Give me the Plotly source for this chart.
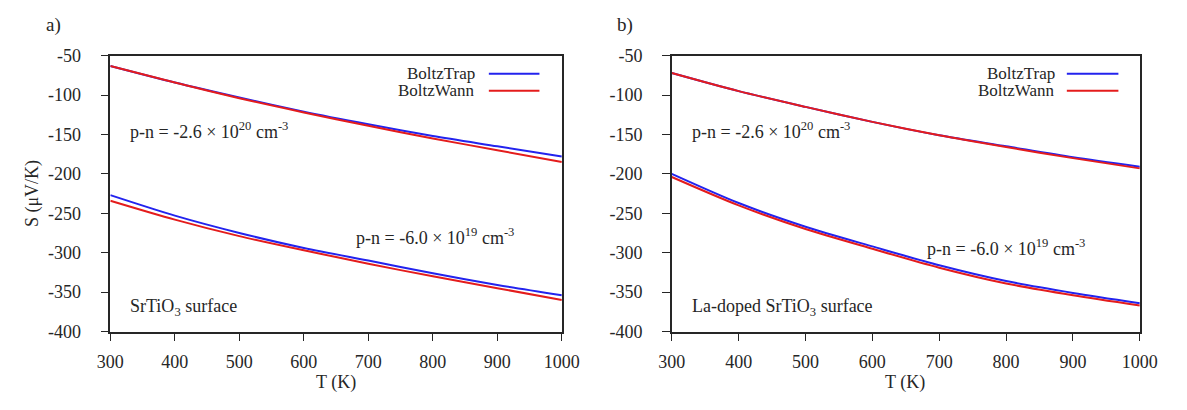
import plotly.graph_objects as go

# Temperature grid (K)
T = [300, 400, 500, 600, 700, 800, 900, 1000]

# a) SrTiO3 surface, Seebeck coefficient (uV/K)
a_high_trap = [-63, -84, -103, -121, -137, -152, -165, -178]
a_high_wann = [-63, -84, -104, -122, -139, -155, -170, -185]
a_low_trap = [-227, -253, -275, -294, -310, -326, -341, -354]
a_low_wann = [-234, -258, -279, -297, -314, -330, -345, -360]

# b) La-doped SrTiO3 surface
b_high_trap = [-72, -95, -115, -134, -151, -165, -179, -191]
b_high_wann = [-72, -95, -115, -134, -151, -166, -180, -193]
b_low_trap = [-200, -237, -267, -292, -316, -336, -351, -364]
b_low_wann = [-204, -240, -270, -295, -319, -339, -354, -367]

x_ticks = [300, 400, 500, 600, 700, 800, 900, 1000]
y_ticks = [-400, -350, -300, -250, -200, -150, -100, -50]
y_tick_text = ["-400", "-350", "-300", "-250", "-200", "-150", "-100", "-50"]

BLUE = "#2323ee"
RED = "#e41c1c"
INK = "#262626"
SERIF = "Liberation Serif"
FS = 18

W, H = 1187, 410
fig = go.Figure()

panels = [
    ("x", "y", a_high_trap, a_high_wann, a_low_trap, a_low_wann),
    ("x2", "y2", b_high_trap, b_high_wann, b_low_trap, b_low_wann),
]
for xa, ya, ht, hw, lt, lw in panels:
    for ys, col in ((ht, BLUE), (hw, RED), (lt, BLUE), (lw, RED)):
        fig.add_trace(go.Scatter(
            x=T, y=ys, mode="lines", xaxis=xa, yaxis=ya,
            line=dict(color=col, width=2, shape="spline", smoothing=0.8),
            showlegend=False, hoverinfo="skip",
        ))

ydom = [1 - 338 / H, 1 - 48 / H]
axis_common = dict(
    showgrid=False, zeroline=False, showline=True, mirror=True,
    linecolor=INK, linewidth=1.5, ticks="outside", ticklen=8,
    tickcolor=INK, tickwidth=1.2,
    tickfont=dict(family=SERIF, size=FS, color=INK),
)
fig.update_layout(
    width=W, height=H, margin=dict(l=0, r=0, t=0, b=0),
    paper_bgcolor="white", plot_bgcolor="white",
    xaxis=dict(domain=[99 / W, 563 / W], range=[300, 1000], tickvals=x_ticks,
               ticklabelstandoff=5, anchor="y", **axis_common),
    yaxis=dict(domain=ydom, range=[-400, -50], tickvals=y_ticks,
               ticktext=y_tick_text, ticklabelstandoff=16, anchor="x",
               **axis_common),
    xaxis2=dict(domain=[676 / W, 1157 / W], range=[300, 1000], tickvals=x_ticks,
                ticklabelstandoff=5, anchor="y2", **axis_common),
    yaxis2=dict(domain=ydom, range=[-400, -50], tickvals=y_ticks,
                ticktext=y_tick_text, ticklabelstandoff=16, anchor="x2",
                **axis_common),
)


def text(x, y, s, size=FS, xanchor="center", angle=0):
    fig.add_annotation(
        x=x / W, y=1 - y / H, xref="paper", yref="paper", text=s,
        showarrow=False, xanchor=xanchor, yanchor="middle", textangle=angle,
        borderpad=0,
        font=dict(family=SERIF, size=size, color=INK),
    )


# panel letters
text(41, 16, "a)", size=19)
text(628, 16, "b)", size=19)

# axis titles
text(331, 392, "T (K)")
text(916, 392, "T (K)")
text(19, 193, "S (μV/K)", angle=-90)

# carrier-concentration labels
text(118, 127, "p-n = -2.6 × 10<sup>20</sup> cm<sup>-3</sup>", xanchor="left")
text(350, 238, "p-n = -6.0 × 10<sup>19</sup> cm<sup>-3</sup>", xanchor="left")
text(696, 127, "p-n = -2.6 × 10<sup>20</sup> cm<sup>-3</sup>", xanchor="left")
text(937, 250, "p-n = -6.0 × 10<sup>19</sup> cm<sup>-3</sup>", xanchor="left")

# system labels
text(118, 313, "SrTiO<sub>3</sub> surface", xanchor="left")
text(696, 313, "La-doped SrTiO<sub>3</sub> surface", xanchor="left")

# legends (key text on the left, line sample on the right)
for tx, lx0, lx1 in ((475, 488, 540), (1071, 1082, 1135)):
    for ly, name, col in ((67, "BoltzTrap", BLUE), (85, "BoltzWann", RED)):
        text(tx, ly, name, size=17, xanchor="right")
        fig.add_shape(
            type="line", xref="paper", yref="paper",
            x0=lx0 / W, x1=lx1 / W, y0=1 - ly / H, y1=1 - ly / H,
            line=dict(color=col, width=2),
        )

fig.write_html("out.html")
